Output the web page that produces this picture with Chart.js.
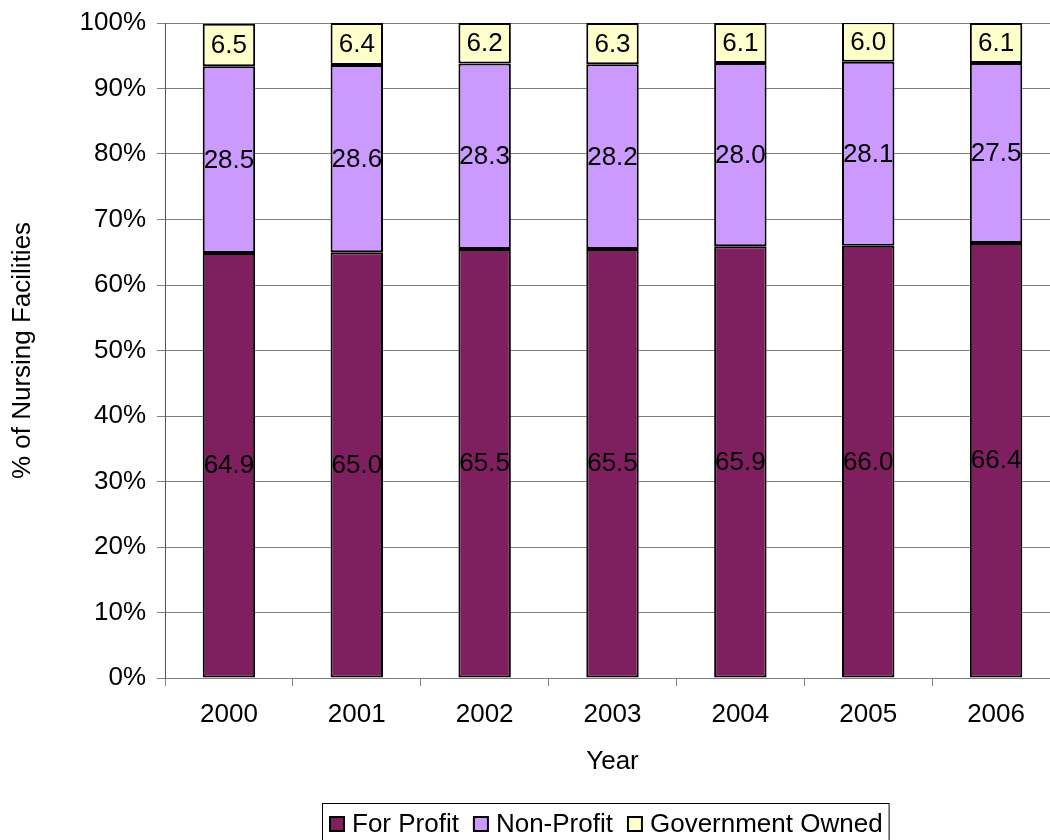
<!DOCTYPE html>
<html>
<head>
<meta charset="utf-8">
<script src="https://cdn.jsdelivr.net/npm/chart.js@4"></script>
<style>
html,body{margin:0;padding:0;background:#fff;}
#wrap{width:1050px;height:840px;overflow:hidden;}
</style>
</head>
<body>
<div id="wrap"><canvas id="c" width="1062" height="840"></canvas></div>
<script>
const years = ['2000','2001','2002','2003','2004','2005','2006'];
const forProfit = [64.9, 65.0, 65.5, 65.5, 65.9, 66.0, 66.4];
const nonProfit = [28.5, 28.6, 28.3, 28.2, 28.0, 28.1, 27.5];
const government = [6.5, 6.4, 6.2, 6.3, 6.1, 6.0, 6.1];
const seriesNames = ['For Profit', 'Non-Profit', 'Government Owned'];
const seriesColors = ['#7F1F5F', '#CC99FF', '#FFFFCC'];

const FONT = 'Arial, "Liberation Sans", sans-serif';
const FS = 26;

const labelPlugin = {
  id: 'segLabels',
  afterDatasetsDraw(chart) {
    const ctx = chart.ctx;
    ctx.save();
    ctx.font = FS + 'px ' + FONT;
    ctx.fillStyle = '#000';
    ctx.textAlign = 'center';
    ctx.textBaseline = 'middle';
    chart.data.datasets.forEach((ds, di) => {
      const meta = chart.getDatasetMeta(di);
      meta.data.forEach((el, i) => {
        const p = el.getProps(['x','y','base'], true);
        const cy = (p.y + p.base) / 2;
        ctx.fillText(ds.data[i].toFixed(1), p.x, cy + 1);
      });
    });
    ctx.restore();
  }
};

const legendPlugin = {
  id: 'customLegend',
  afterDraw(chart) {
    const ctx = chart.ctx;
    ctx.save();
    ctx.font = FS + 'px ' + FONT;
    const left = 322, top = 803;
    const cy = 824;
    const items = chart.data.datasets.map(d => ({label: d.label, color: d.backgroundColor}));
    let x = left + 7;
    const starts = [];
    items.forEach((it, i) => {
      starts.push(x);
      x += 23 + ctx.measureText(it.label).width + 14;
    });
    const right = x - 14 + 6;
    ctx.strokeStyle = '#000';
    ctx.lineWidth = 1;
    ctx.strokeRect(left + 0.5, top + 0.5, right - left, 60);
    ctx.textBaseline = 'middle';
    ctx.textAlign = 'left';
    items.forEach((it, i) => {
      const bx = starts[i];
      ctx.fillStyle = it.color;
      ctx.fillRect(bx, cy - 8, 16, 16);
      ctx.lineWidth = 2;
      ctx.strokeRect(bx + 1, cy - 7, 14, 14);
      ctx.fillStyle = '#000';
      ctx.fillText(it.label, bx + 23, cy + 1);
    });
    ctx.restore();
  }
};

const data = {
  labels: years,
  datasets: [
    {label: seriesNames[0], data: forProfit, backgroundColor: seriesColors[0]},
    {label: seriesNames[1], data: nonProfit, backgroundColor: seriesColors[1]},
    {label: seriesNames[2], data: government, backgroundColor: seriesColors[2]}
  ].map(d => Object.assign(d, {
    borderColor: '#000', borderWidth: 2, borderSkipped: false,
    categoryPercentage: 1.0, barPercentage: 0.41
  }))
};

new Chart(document.getElementById('c'), {
  type: 'bar',
  data,
  plugins: [labelPlugin, legendPlugin],
  options: {
    responsive: false,
    animation: false,
    layout: {padding: {left: 0, right: 2, top: 23, bottom: 62}},
    plugins: {legend: {display: false}, tooltip: {enabled: false}},
    scales: {
      x: {
        stacked: true,
        afterFit: s => { s.height = 100; s.paddingLeft = 0; s.paddingRight = 0; },
        border: {color: '#808080', width: 1},
        grid: {display: true, drawOnChartArea: false, offset: true, color: '#808080', tickLength: 8},
        ticks: {color: '#000', font: {family: FONT, size: FS}, padding: 13, maxRotation: 0},
        title: {display: true, text: 'Year', color: '#000', font: {family: FONT, size: FS}, padding: {top: 0, bottom: 1}}
      },
      y: {
        stacked: true,
        min: 0, max: 100,
        afterFit: s => { s.width = 165; s.paddingTop = 0; s.paddingBottom = 0; },
        border: {color: '#555', width: 1},
        grid: {color: '#808080', tickLength: 8, lineWidth: 1},
        ticks: {stepSize: 10, color: '#000', font: {family: FONT, size: FS}, padding: 11,
                callback: v => v + '%'},
        title: {display: true, text: '% of Nursing Facilities', color: '#000', font: {family: FONT, size: FS}, padding: {top: 7, bottom: 0}}
      }
    }
  }
});
</script>
</body>
</html>
